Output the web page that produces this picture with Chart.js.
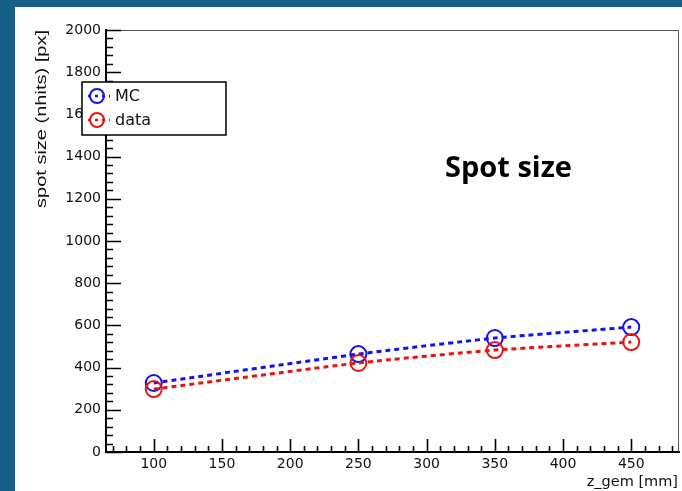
<!DOCTYPE html>
<html>
<head>
<meta charset="utf-8">
<script src="https://cdn.jsdelivr.net/npm/chart.js@4.4.1/dist/chart.umd.min.js"></script>
<style>
  html, body { margin: 0; padding: 0; }
  body { width: 682px; height: 491px; background: #185f86; position: relative; overflow: hidden; }
  #panel { position: absolute; left: 15px; top: 7px; width: 667px; height: 484px; background: #fff; }
  #spotChart { display: block; }
</style>
</head>
<body>
<div id="panel"><canvas id="spotChart" width="667" height="484"></canvas></div>
<script>
// values
const zGem = [100, 250, 350, 450];
const mcSize = [327, 464, 540, 592];
const dataSize = [298, 422, 483, 521];
const seriesNames = ['MC', 'data'];
const seriesColors = ['#1414e6', '#e81414'];
const xTitle = 'z_gem [mm]';
const yTitle = 'spot size (nhits) [px]';
const noteText = 'Spot size';

const toPoints = (ys) => zGem.map((x, i) => ({ x: x, y: ys[i] }));

// ROOT style frame, inner ticks, titles and legend box
const rootFrame = {
    id: 'rootFrame',
    afterDraw(chart) {
        const ctx = chart.ctx;
        const a = chart.chartArea;
        const xs = chart.scales.x, ys = chart.scales.y;
        ctx.save();

        // top / right frame
        ctx.strokeStyle = '#555';
        ctx.lineWidth = 1;
        ctx.beginPath();
        ctx.moveTo(a.left, a.top + 0.5); ctx.lineTo(a.right - 0.5, a.top + 0.5); ctx.lineTo(a.right - 0.5, a.bottom);
        ctx.stroke();

        // ticks
        ctx.strokeStyle = '#000';
        ctx.lineWidth = 1.6;
        ctx.beginPath();
        for (let v = ys.min; v <= ys.max; v += 40) {
            const py = Math.round(ys.getPixelForValue(v)) + 0.5;
            const len = v % 200 === 0 ? 15 : 7;
            ctx.moveTo(a.left, py); ctx.lineTo(a.left + len, py);
        }
        for (let v = 70; v <= xs.max; v += 10) {
            const px = Math.round(xs.getPixelForValue(v)) + 0.5;
            const len = v % 50 === 0 ? 13 : 6;
            ctx.moveTo(px, a.bottom); ctx.lineTo(px, a.bottom - len);
        }
        ctx.stroke();

        // axis titles
        ctx.fillStyle = '#111';
        ctx.font = '14.5px "DejaVu Sans"';
        ctx.textAlign = 'right';
        ctx.textBaseline = 'alphabetic';
        ctx.fillText(xTitle, a.right - 1, 479);
        ctx.save();
        ctx.font = '15px "Liberation Sans"';
        const stretch = 178 / ctx.measureText(yTitle).width;
        ctx.translate(31, a.top);
        ctx.rotate(-Math.PI / 2);
        ctx.scale(stretch, 1);
        ctx.textAlign = 'right';
        ctx.fillText(yTitle, 0, 0);
        ctx.restore();

        // note
        ctx.fillStyle = '#000';
        ctx.font = 'bold 29px "Open Sans"';
        ctx.textAlign = 'left';
        ctx.fillText(noteText, 430, 170);

        // legend
        const bx = 67, by = 75, bw = 144, bh = 53;
        ctx.fillStyle = '#fff';
        ctx.fillRect(bx, by, bw, bh);
        ctx.strokeStyle = '#000';
        ctx.lineWidth = 1.5;
        ctx.strokeRect(bx, by, bw, bh);
        ctx.font = '16px "DejaVu Sans"';
        ctx.textBaseline = 'middle';
        seriesNames.forEach((name, i) => {
            const cy = by + 14 + i * 24;
            ctx.strokeStyle = seriesColors[i];
            ctx.lineWidth = 2.5;
            ctx.setLineDash([3, 4]);
            ctx.beginPath(); ctx.moveTo(bx + 6, cy); ctx.lineTo(bx + 28, cy); ctx.stroke();
            ctx.setLineDash([]);
            ctx.lineWidth = 2;
            ctx.beginPath(); ctx.arc(bx + 15, cy, 7, 0, Math.PI * 2); ctx.stroke();
            ctx.fillStyle = '#111';
            ctx.fillText(name, bx + 33, cy + 1);
        });
        ctx.restore();
    }
};

new Chart(document.getElementById('spotChart'), {
    type: 'line',
    data: {
        datasets: [
            { label: seriesNames[0], data: toPoints(mcSize), borderColor: seriesColors[0], order: 2 },
            { label: seriesNames[1], data: toPoints(dataSize), borderColor: seriesColors[1], order: 1 }
        ]
    },
    options: {
        responsive: false,
        animation: false,
        clip: false,
        layout: { autoPadding: false, padding: { left: 0, right: 3, top: 23, bottom: 0 } },
        elements: {
            line: { borderWidth: 3, borderDash: [5, 4], tension: 0.2, fill: false },
            point: { radius: 8, borderWidth: 2, backgroundColor: 'rgba(0,0,0,0)', hoverRadius: 8 }
        },
        plugins: { legend: { display: false }, tooltip: { enabled: false } },
        scales: {
            x: {
                type: 'linear',
                min: 65, max: 485,
                grid: { display: false, drawTicks: false },
                border: { display: true, color: '#000', width: 2 },
                ticks: { stepSize: 50, includeBounds: false, padding: 4, color: '#111',
                    font: { family: 'DejaVu Sans', size: 14 }, callback: (v) => String(v) },
                afterFit(s) { s.height = 39; }
            },
            y: {
                min: 0, max: 2000,
                grid: { display: false, drawTicks: false },
                border: { display: true, color: '#000', width: 2 },
                ticks: { stepSize: 200, padding: 5, color: '#111',
                    font: { family: 'DejaVu Sans', size: 14 }, callback: (v) => String(v) },
                afterFit(s) { s.width = 91; }
            }
        }
    },
    plugins: [rootFrame]
});
</script>
</body>
</html>
